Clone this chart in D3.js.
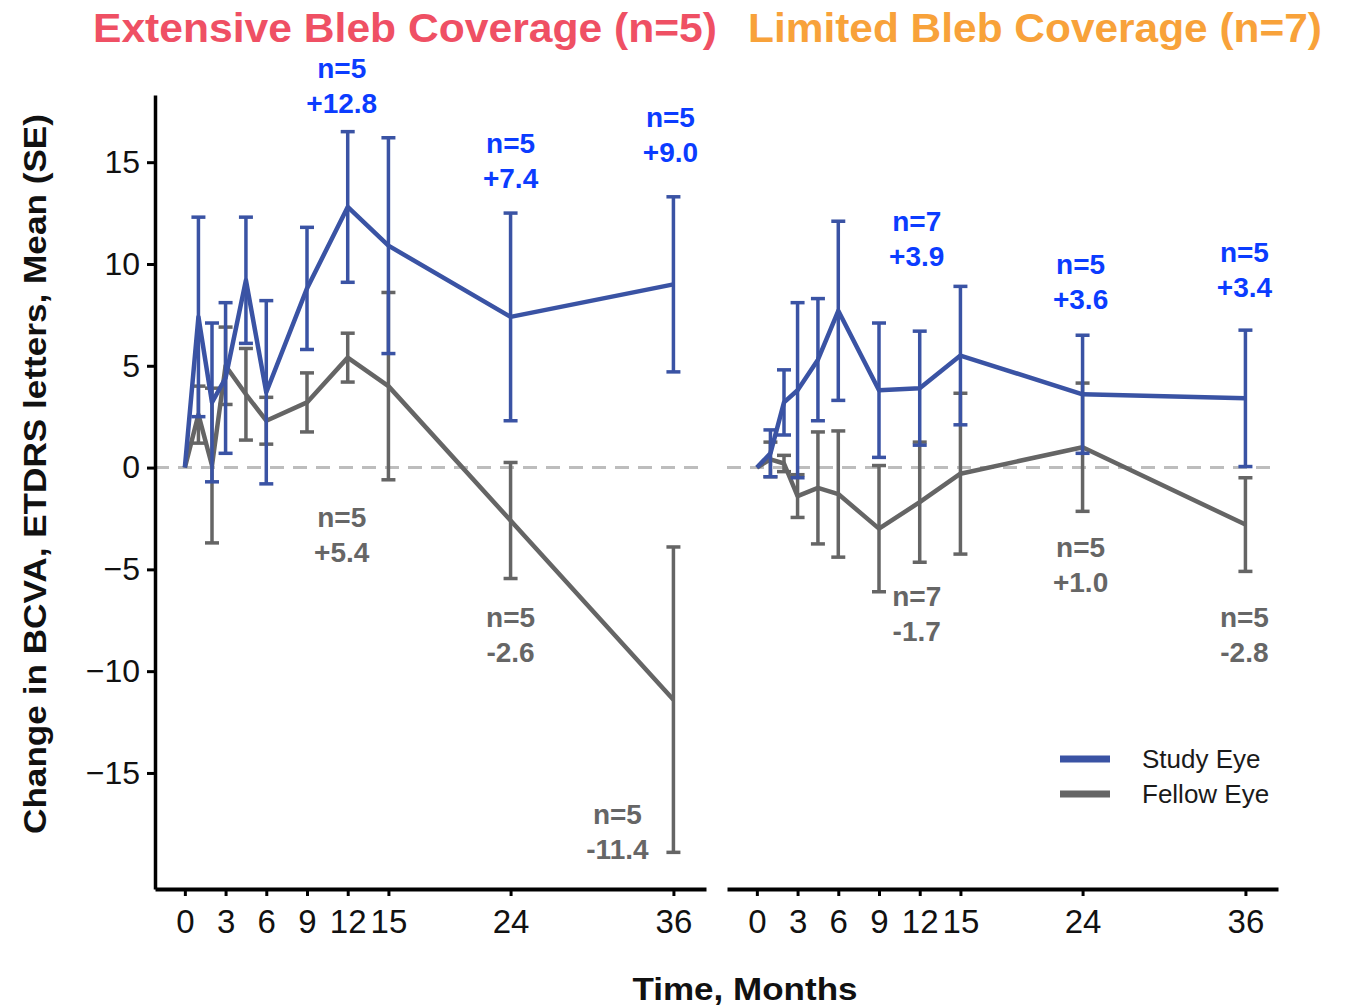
<!DOCTYPE html>
<html>
<head>
<meta charset="utf-8">
<script src="https://cdn.jsdelivr.net/npm/d3@7"></script>
<style>
  html, body { margin: 0; padding: 0; background: #ffffff; }
  svg { display: block; font-family: "Liberation Sans", Arial, sans-serif; }
</style>
</head>
<body>
<svg id="chart" width="1350" height="1007"></svg>
<script>
// Visit times in months
const months = [0, 1, 2, 3, 4.5, 6, 9, 12, 15, 24, 36];
const tickMonths = [0, 3, 6, 9, 12, 15, 24, 36];
const yTicks = [15, 10, 5, 0, -5, -10, -15];

// Extensive bleb coverage (n=5)
const extStudyMean = [0, 7.4, 3.2, 4.4, 9.2, 3.7, 8.8, 12.8, 10.9, 7.4, 9.0];
const extStudySE   = [0, 4.9, 3.9, 3.7, 3.1, 4.5, 3.0, 3.7, 5.3, 5.1, 4.3];
const extFellowMean = [0, 2.6, 0.1, 5.0, 3.6, 2.3, 3.2, 5.4, 4.0, -2.6, -11.4];
const extFellowSE   = [0, 1.4, 3.8, 1.9, 2.25, 1.15, 1.45, 1.2, 4.6, 2.85, 7.5];

// Limited bleb coverage (n=7)
const limStudyMean = [0, 0.7, 3.2, 3.8, 5.3, 7.7, 3.8, 3.9, 5.5, 3.6, 3.4];
const limStudySE   = [0, 1.15, 1.6, 4.3, 3.0, 4.4, 3.3, 2.8, 3.4, 2.9, 3.35];
const limFellowMean = [0, 0.4, 0.2, -1.4, -1.0, -1.3, -3.0, -1.7, -0.3, 1.0, -2.8];
const limFellowSE   = [0, 0.85, 0.4, 1.05, 2.75, 3.1, 3.1, 2.95, 3.95, 3.15, 2.3];

// Value call-outs: [month, count, value, series]
const extLabels = [
  [12, 5, 12.8, "study"], [24, 5, 7.4, "study"], [36, 5, 9.0, "study"],
  [12, 5, 5.4, "fellow"], [24, 5, -2.6, "fellow"], [36, 5, -11.4, "fellow"]
];
const limLabels = [
  [12, 7, 3.9, "study"], [24, 5, 3.6, "study"], [36, 5, 3.4, "study"],
  [12, 7, -1.7, "fellow"], [24, 5, 1.0, "fellow"], [36, 5, -2.8, "fellow"]
];

const seriesNames = ["Study Eye", "Fellow Eye"];

const colors = { study: "#3a53a4", fellow: "#656565" };
const labelColors = { study: "#0b3cff", fellow: "#666666" };

const svg = d3.select("#chart");
svg.append("rect").attr("width", 1350).attr("height", 1007).attr("fill", "#fff");

const y = d3.scaleLinear().domain([-20.7, 18.3]).range([889, 95]);

function fmt(v) {
  return (v > 0 ? "+" : v < 0 ? "-" : "") + Math.abs(v).toFixed(1);
}

function drawPanel(range, study, studySE, fellow, fellowSE, labels, labelPos) {
  const x = d3.scaleLinear().domain([-2.2, 38.4]).range(range);
  const g = svg.append("g");

  // zero reference line
  g.append("line")
    .attr("x1", range[0]).attr("x2", range[1])
    .attr("y1", y(0)).attr("y2", y(0))
    .attr("stroke", "#bdbdbd").attr("stroke-width", 3)
    .attr("stroke-dasharray", "14,9");

  const groups = [
    { key: "fellow", mean: fellow, se: fellowSE },
    { key: "study", mean: study, se: studySE }
  ];

  groups.forEach(s => {
    const pts = months.map((m, i) => ({ m, v: s.mean[i], e: s.se[i] }));
    const eb = g.append("g");
    pts.filter(p => p.e > 0).forEach(p => {
      const cx = x(p.m);
      eb.append("line").attr("x1", cx).attr("x2", cx)
        .attr("y1", y(p.v + p.e)).attr("y2", y(p.v - p.e))
        .attr("stroke", colors[s.key]).attr("stroke-width", 3.5);
      [p.v + p.e, p.v - p.e].forEach(v => {
        eb.append("line").attr("x1", cx - 7).attr("x2", cx + 7)
          .attr("y1", y(v)).attr("y2", y(v))
          .attr("stroke", colors[s.key]).attr("stroke-width", 3.5);
      });
    });
    g.append("path").datum(pts)
      .attr("fill", "none").attr("stroke", colors[s.key])
      .attr("stroke-width", 4.5).attr("stroke-linejoin", "round")
      .attr("d", d3.line().x(p => x(p.m)).y(p => y(p.v)));
  });

  // value call-outs
  labels.forEach((l, i) => {
    const [m, n, v, key] = l;
    const pos = labelPos[i];
    const lx = x(m) + (pos[1] || 0);
    const t = g.append("text")
      .attr("x", lx).attr("y", pos[0])
      .attr("text-anchor", "middle")
      .attr("font-size", 28).attr("font-weight", "bold")
      .attr("fill", labelColors[key]);
    t.append("tspan").attr("x", lx).text("n=" + n);
    t.append("tspan").attr("x", lx).attr("dy", 35).text(fmt(v));
  });

  // x axis
  const ax = g.append("g").attr("transform", `translate(0,${889})`)
    .call(d3.axisBottom(x).tickValues(tickMonths).tickSize(7).tickPadding(14).tickSizeOuter(0));
  ax.select(".domain").attr("stroke", "#000").attr("stroke-width", 4);
  ax.selectAll(".tick line").attr("stroke", "#000").attr("stroke-width", 3);
  ax.selectAll(".tick text").attr("font-size", 33).attr("fill", "#111")
    .attr("font-family", "'Liberation Sans', Arial, sans-serif");
  return x;
}

// label baselines (first line) and optional x offsets
drawPanel([155, 706], extStudyMean, extStudySE, extFellowMean, extFellowSE, extLabels,
  [[78, -6], [153], [127, -3], [527, -6], [627], [824, -56]]);
drawPanel([727, 1278], limStudyMean, limStudySE, limFellowMean, limFellowSE, limLabels,
  [[231, -3], [274, -2], [262, -1], [606, -3], [557, -2], [627, -1]]);

// y axis on the left panel
const ay = svg.append("g").attr("transform", "translate(155,0)")
  .call(d3.axisLeft(y).tickValues(yTicks).tickSize(8).tickPadding(7).tickSizeOuter(0)
    .tickFormat(d => d < 0 ? "\u2212" + Math.abs(d) : d));
ay.select(".domain").attr("stroke", "#000").attr("stroke-width", 3.5);
ay.selectAll(".tick line").attr("stroke", "#000").attr("stroke-width", 3);
ay.selectAll(".tick text").attr("font-size", 32).attr("fill", "#111")
  .attr("font-family", "'Liberation Sans', Arial, sans-serif");

// axis titles
svg.append("text")
  .attr("transform", "translate(46,474) rotate(-90)")
  .attr("text-anchor", "middle").attr("font-size", 32).attr("font-weight", "bold")
  .attr("fill", "#111")
  .attr("textLength", 720).attr("lengthAdjust", "spacingAndGlyphs")
  .text("Change in BCVA, ETDRS letters, Mean (SE)");

svg.append("text")
  .attr("x", 745).attr("y", 1000)
  .attr("text-anchor", "middle").attr("font-size", 32).attr("font-weight", "bold")
  .attr("fill", "#111")
  .attr("textLength", 225).attr("lengthAdjust", "spacingAndGlyphs")
  .text("Time, Months");

// panel titles
svg.append("text")
  .attr("x", 93).attr("y", 42)
  .attr("font-size", 40).attr("font-weight", "bold").attr("fill", "#ef5064")
  .attr("textLength", 624).attr("lengthAdjust", "spacingAndGlyphs")
  .text("Extensive Bleb Coverage (n=5)");
svg.append("text")
  .attr("x", 748).attr("y", 42)
  .attr("font-size", 40).attr("font-weight", "bold").attr("fill", "#f8a23a")
  .attr("textLength", 574).attr("lengthAdjust", "spacingAndGlyphs")
  .text("Limited Bleb Coverage (n=7)");

// legend
const legend = svg.append("g");
[["study", 759], ["fellow", 794]].forEach(([key, ly], i) => {
  legend.append("line").attr("x1", 1060).attr("x2", 1110).attr("y1", ly).attr("y2", ly)
    .attr("stroke", colors[key]).attr("stroke-width", 7);
  legend.append("text").attr("x", 1142).attr("y", ly + 9)
    .attr("font-size", 26).attr("fill", "#1a1a1a")
    .text(seriesNames[i]);
});
</script>
</body>
</html>
